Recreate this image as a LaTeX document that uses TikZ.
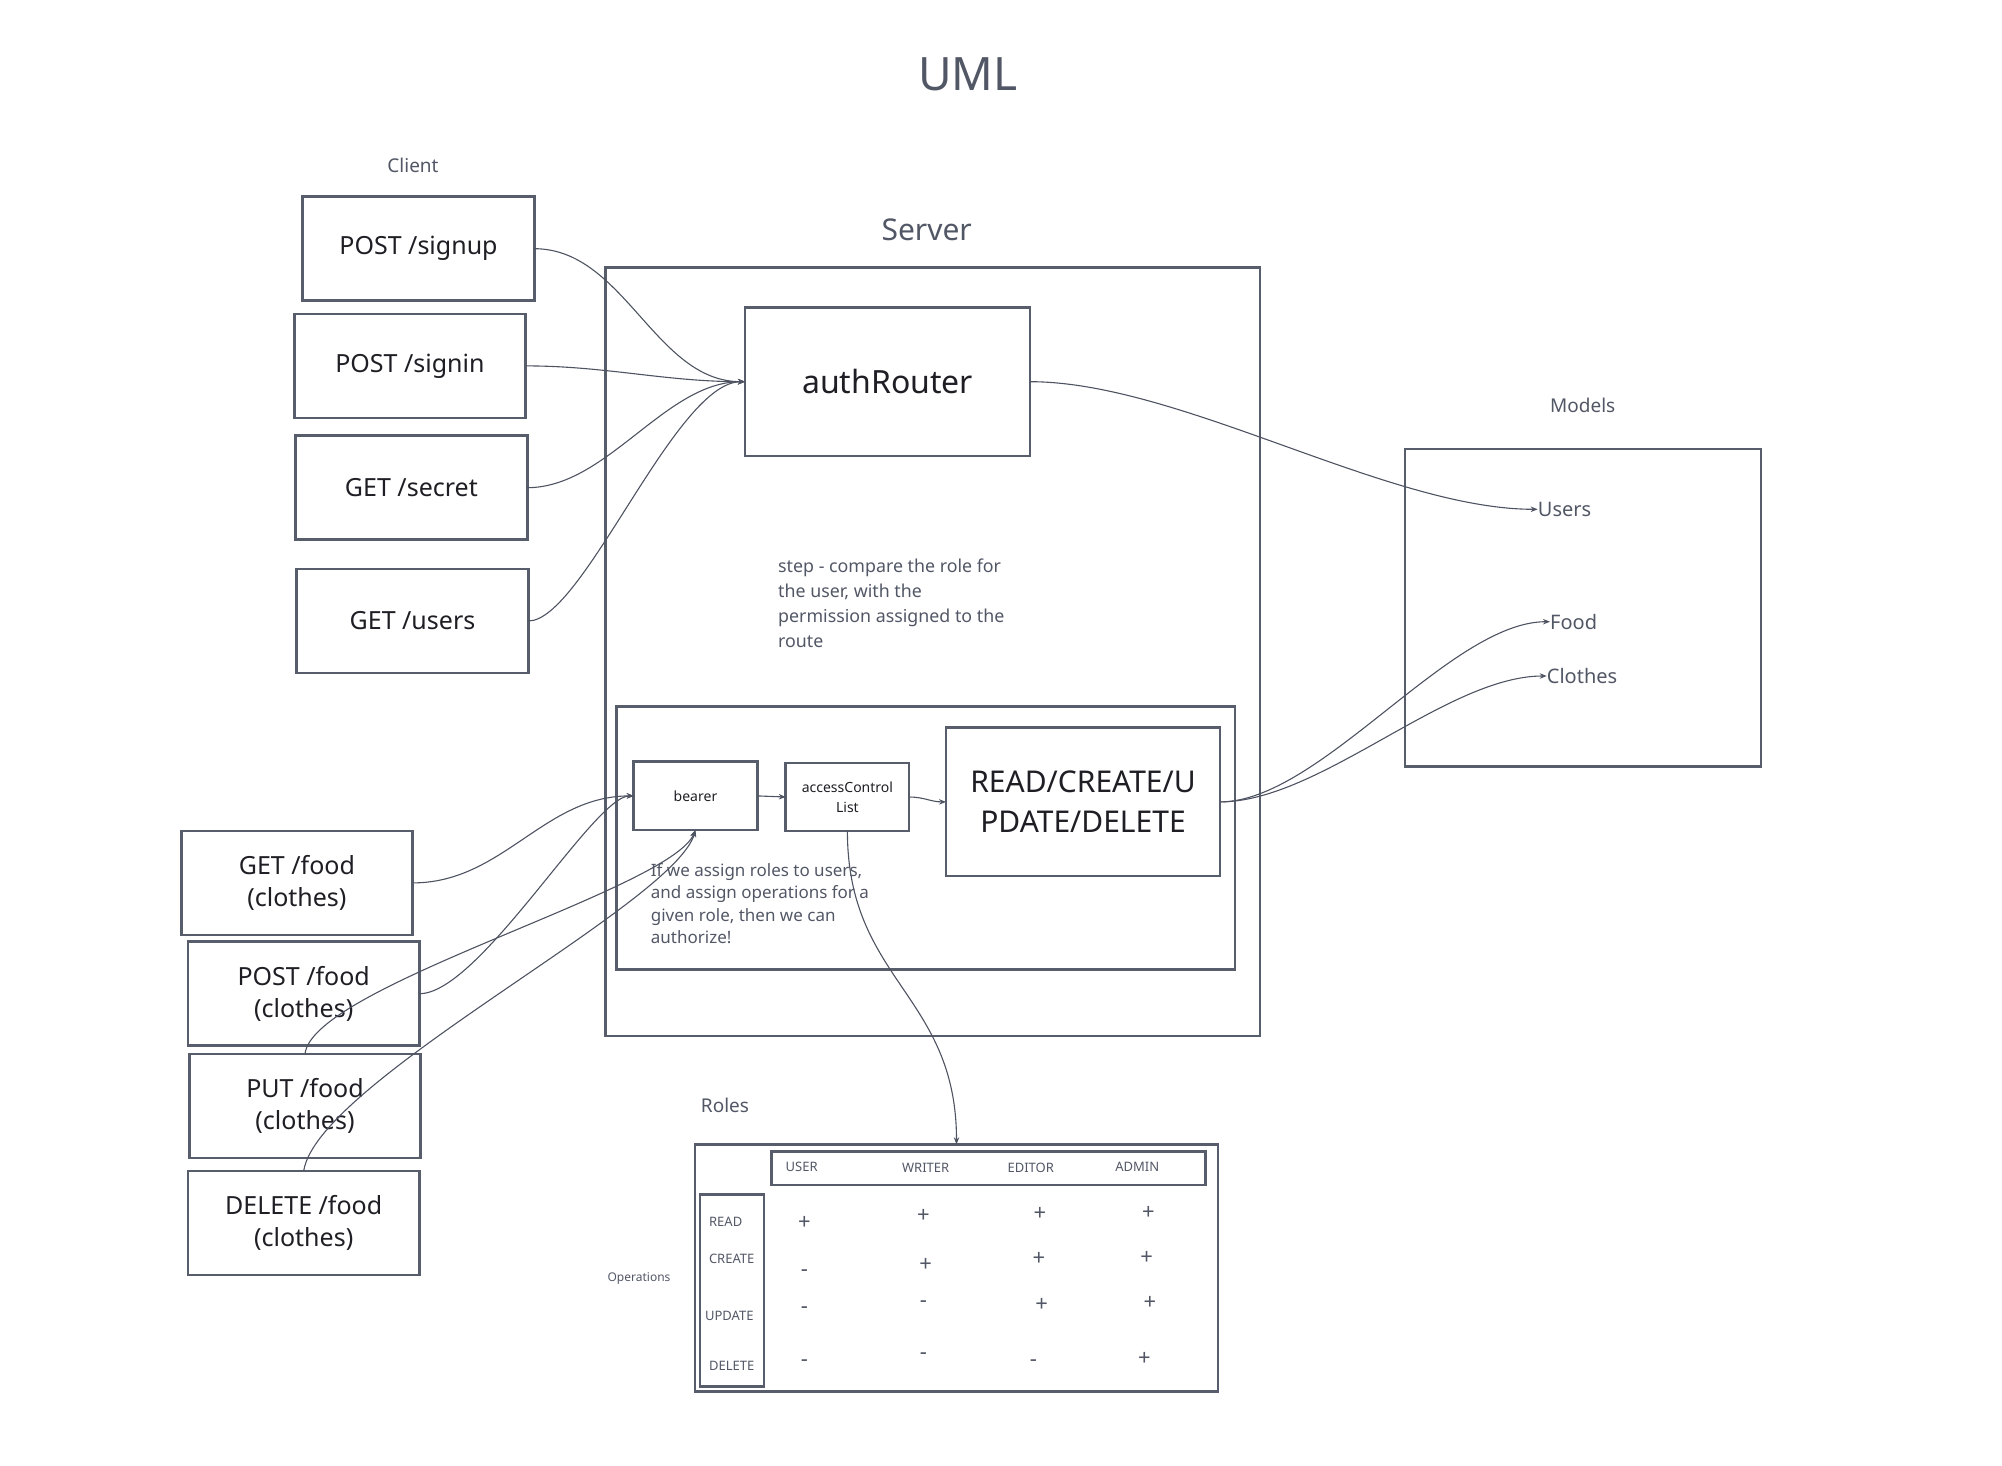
\documentclass[tikz,border=0pt]{standalone}
\usepackage{fontspec}
\setmainfont{Noto Sans}
\usetikzlibrary{arrows.meta}
\definecolor{edgegray}{RGB}{88,93,108}
\definecolor{wiregray}{RGB}{78,83,98}
\definecolor{labelgray}{RGB}{82,87,102}
\definecolor{textdark}{RGB}{30,30,36}

\begin{document}
\begin{tikzpicture}[x=1pt,y=-1pt,
  box/.style={draw=edgegray,line width=2.8pt,inner sep=0pt,outer sep=0pt,align=center,text=textdark},
  route/.style={box,minimum width=231.6,minimum height=104,font=\fontsize{25}{32}\selectfont},
  lbl/.style={inner sep=0pt,text=labelgray},
  hd/.style={lbl,font=\fontsize{13}{15}\selectfont},
  sign/.style={lbl,font=\fontsize{22}{26}\selectfont},
  wire/.style={draw=wiregray,line width=1.1pt},
  arr/.style={wire,-{Stealth[length=7pt,width=5.5pt]}}]
	\useasboundingbox (0,0) rectangle (2002,1466);
	%% labels
	\node[lbl,font=\fontsize{46}{50}\selectfont] (title) at (968,74.5) {UML};
	\node[lbl,font=\fontsize{19}{23}\selectfont] (clientlbl) at (413,165) {Client};
	\node[lbl,font=\fontsize{30}{34}\selectfont] (serverlbl) at (926.7,229.3) {Server};
	\node[lbl,font=\fontsize{19}{23}\selectfont] (modelslbl) at (1582.7,405) {Models};
	\node[lbl,font=\fontsize{19}{23}\selectfont] (roleslbl) at (725,1105) {Roles};
	\node[lbl,font=\fontsize{12}{14}\selectfont] (opslbl) at (639,1278.3) {Operations};
	%% containers
	\node[box,minimum width=654.5,minimum height=768.7] (server) at (932.8,651.7) {};
	\node[box,minimum width=618.3,minimum height=262.6] (guard) at (925.9,838) {};
	\node[box,minimum width=356,minimum height=317.7] (models) at (1583,607.9) {};
	%% client requests
	\node[route] (signup) at (418.5,248.7) {POST /signup};
	\node[route] (signin) at (409.9,365.9) {POST /signin};
	\node[route] (secret) at (411.4,487.7) {GET /secret};
	\node[route] (getusers) at (412.5,621) {GET /users};
	\node[route] (getfood) at (296.9,882.9) {GET /food\\(clothes)};
	\node[route] (postfood) at (303.7,993.7) {POST /food\\(clothes)};
	\node[route] (putfood) at (305,1106) {PUT /food\\(clothes)};
	\node[route] (deletefood) at (303.7,1222.9) {DELETE /food\\(clothes)};
	%% server
	\node[box,minimum width=285,minimum height=148.7,font=\fontsize{32}{36}\selectfont] (auth) at (887.5,381.7) {authRouter};
	\node[box,minimum width=123.6,minimum height=68.3,font=\fontsize{14}{19.5}\selectfont] (bearer) at (695.5,795.9) {bearer};
	\node[box,minimum width=123.3,minimum height=68,font=\fontsize{14}{19.5}\selectfont] (acl) at (847.4,797) {accessControl\\List};
	\node[box,minimum width=274,minimum height=148.3,font=\fontsize{30}{40}\selectfont] (crud) at (1083,801.9) {READ/CREATE/U\\PDATE/DELETE};
	\node[lbl,anchor=north west,align=left,font=\fontsize{17.8}{25}\selectfont] (stepnote) at (778,558.3)
		{step - compare the role for\\the user, with the\\permission assigned to the\\route};
	\node[lbl,anchor=north west,align=left,font=\fontsize{17}{22.4}\selectfont] (rolenote) at (650.7,863)
		{If we assign roles to users,\\and assign operations for a\\given role, then we can\\authorize!};
	%% models
	\node[lbl,anchor=west,font=\fontsize{20}{24}\selectfont] (usersm) at (1537.7,509.3) {Users};
	\node[lbl,anchor=west,font=\fontsize{20}{24}\selectfont] (foodm) at (1550,621.7) {Food};
	\node[lbl,anchor=west,font=\fontsize{20}{24}\selectfont] (clothesm) at (1546.7,676) {Clothes};
	%% roles table
	\node[box,minimum width=523,minimum height=247.4] (roles) at (956.5,1268) {};
	\node[box,minimum width=434,minimum height=33.3] (rolehead) at (988.7,1168.4) {};
	\node[box,minimum width=64,minimum height=192.4] (opcol) at (732,1290.5) {};
	\node[hd] (huser) at (801.7,1166.7) {USER};
	\node[hd] (hwriter) at (925.7,1168.3) {WRITER};
	\node[hd] (heditor) at (1030.7,1167.7) {EDITOR};
	\node[hd] (hadmin) at (1137.3,1166.7) {ADMIN};
	\node[hd] (oread) at (725.7,1221.7) {READ};
	\node[hd] (ocreate) at (731.7,1259.3) {CREATE};
	\node[hd] (oupdate) at (729.3,1316) {UPDATE};
	\node[hd] (odelete) at (731.7,1366) {DELETE};
	\node[sign] (u1) at (804.3,1222.7) {+};
	\node[sign] (u2) at (804.3,1273.3) {-};
	\node[sign] (u3) at (804.3,1310) {-};
	\node[sign] (u4) at (804.3,1362.7) {-};
	\node[sign] (w1) at (923.3,1215.7) {+};
	\node[sign] (w2) at (925.7,1265) {+};
	\node[sign] (w3) at (923.3,1304) {-};
	\node[sign] (w4) at (923.3,1356) {-};
	\node[sign] (e1) at (1040,1214.3) {+};
	\node[sign] (e2) at (1039,1259.3) {+};
	\node[sign] (e3) at (1041.7,1305.3) {+};
	\node[sign] (e4) at (1033.3,1362.7) {-};
	\node[sign] (a1) at (1148.3,1213.3) {+};
	\node[sign] (a2) at (1146.7,1258.3) {+};
	\node[sign] (a3) at (1150,1303.3) {+};
	\node[sign] (a4) at (1144.3,1359.3) {+};
	%% auth routes
	\draw[arr] (signup.east) .. controls +(90,0) and +(-90,0) .. (auth.west);
	\draw[arr] (signin.east) .. controls +(80,0) and +(-80,0) .. (auth.west);
	\draw[arr] (secret.east) .. controls +(80,0) and +(-80,0) .. (auth.west);
	\draw[arr] (getusers.east) .. controls +(55,0) and +(-70,0) .. (auth.west);
	\draw[arr] (auth.east) .. controls +(150,0) and +(-150,0) .. (usersm.west);
	%% resource routes
	\draw[arr] (getfood.east) .. controls +(90,0) and +(-90,0) .. (bearer.west);
	\draw[arr] (postfood.east) .. controls +(60,0) and +(-40,0) .. (bearer.west);
	\draw[arr] (putfood.north) .. controls +(7,-68) and +(-25,60) .. (bearer.south);
	\draw[arr] (deletefood.north) .. controls +(14,-90) and +(-22,75) .. (bearer.south);
	\draw[arr] (bearer.east) -- (acl.west);
	\draw[arr] (acl.east) .. controls +(15,0) and +(-15,0) .. (crud.west);
	\draw[arr] (acl.south) .. controls +(0,150) and +(0,-150) .. (roles.north);
	\draw[arr] (crud.east) .. controls +(100,0) and +(-100,0) .. (foodm.west);
	\draw[arr] (crud.east) .. controls +(100,0) and +(-100,0) .. (clothesm.west);
\end{tikzpicture}
\end{document}
